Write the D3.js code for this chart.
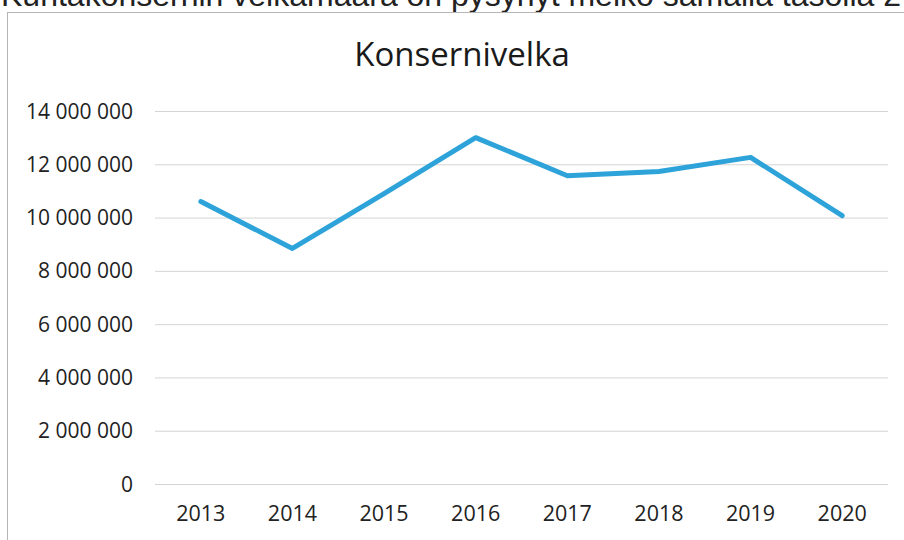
<html>
<meta charset="utf-8">
<body style="margin:0;background:#fff">
<script src="https://d3js.org/d3.v7.min.js"></script>
<div id="my_dataviz"></div>
<script>
// data
var years = ["2013", "2014", "2015", "2016", "2017", "2018", "2019", "2020"]
var debt = [10600000, 8840000, 10900000, 13000000, 11570000, 11730000, 12260000, 10070000]
var yTicks = [0, 2000000, 4000000, 6000000, 8000000, 10000000, 12000000, 14000000]
var chartTitle = "Konsernivelka"
var pageText = "Kuntakonsernin velkamäärä on pysynyt melko samalla tasolla 2"

var width = 904, height = 540

var svg = d3.select("#my_dataviz")
  .append("svg")
    .attr("width", width)
    .attr("height", height)
    .style("display", "block")

// text of the page above the chart (cut off by the scan, as in the original)
svg.append("text")
  .attr("x", 1).attr("y", 6)
  .style("font-family", "Liberation Sans, Arial, sans-serif")
  .style("font-size", "32px")
  .attr("fill", "#222")
  .text(pageText)

// chart frame
svg.append("rect")
  .attr("x", 7.5).attr("y", 12.5)
  .attr("width", 920).attr("height", 540)
  .attr("fill", "none")
  .attr("stroke", "#b5b5b5")

// scales
var x = d3.scalePoint()
  .domain(years)
  .range([155, 888])
  .padding(0.5)

var y = d3.scaleLinear()
  .domain([0, 14000000])
  .range([484, 111])

var fmt = d3.formatLocale({decimal: ",", thousands: " ", grouping: [3], currency: ["", " €"]}).format(",")

// grid lines
svg.append("g")
  .selectAll("line")
  .data(yTicks)
  .enter()
  .append("line")
    .attr("x1", 155).attr("x2", 888)
    .attr("y1", function(d) { return y(d) + 0.5 })
    .attr("y2", function(d) { return y(d) + 0.5 })
    .attr("stroke", "#d4d4d4")
    .attr("stroke-width", 1)

// y labels
svg.append("g")
  .selectAll("text")
  .data(yTicks)
  .enter()
  .append("text")
    .attr("x", 133)
    .attr("y", function(d) { return y(d) })
    .attr("dy", "0.36em")
    .attr("text-anchor", "end")
    .style("font-family", "Open Sans, sans-serif")
    .style("font-size", "21px")
    .attr("fill", "#222")
    .text(function(d) { return fmt(d) })

// x labels
svg.append("g")
  .selectAll("text")
  .data(years)
  .enter()
  .append("text")
    .attr("x", function(d) { return x(d) })
    .attr("y", 521)
    .attr("text-anchor", "middle")
    .style("font-family", "Open Sans, sans-serif")
    .style("font-size", "21.5px")
    .attr("fill", "#222")
    .text(function(d) { return d })

// title
svg.append("text")
  .attr("x", 462)
  .attr("y", 66)
  .attr("text-anchor", "middle")
  .style("font-family", "Open Sans, sans-serif")
  .style("font-size", "33px")
  .attr("fill", "#1a1a1a")
  .text(chartTitle)

// the line
svg.append("path")
  .datum(debt)
  .attr("d", d3.line()
    .x(function(d, i) { return x(years[i]) })
    .y(function(d) { return y(d) })
  )
  .attr("fill", "none")
  .attr("stroke", "#2ea3da")
  .attr("stroke-width", 5)
  .attr("stroke-linejoin", "round")
  .attr("stroke-linecap", "round")
</script>
</body>
</html>
